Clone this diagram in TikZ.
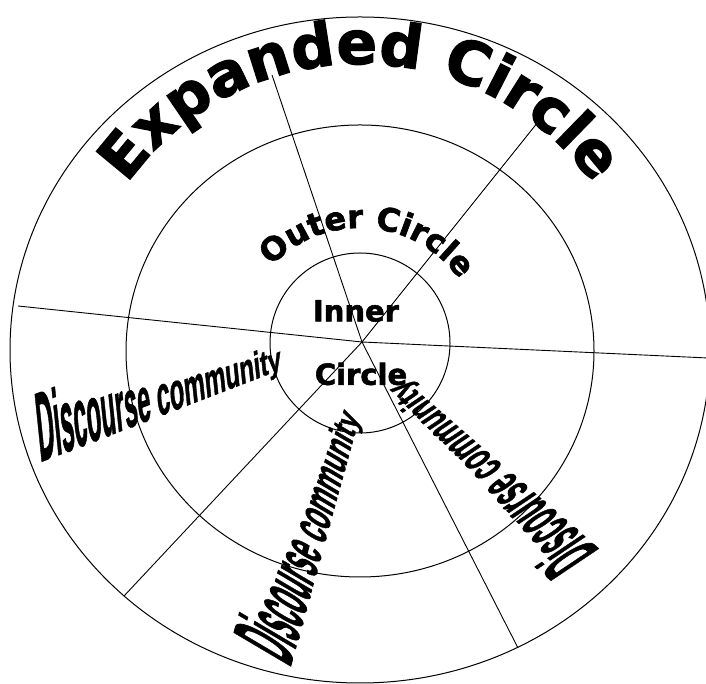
\documentclass[tikz,border=0pt]{standalone}
\usepackage{fontspec}
\usepackage{graphicx}
\usetikzlibrary{decorations.text}

\newfontfamily\ringfont{DejaVu Sans}[BoldFeatures={FakeBold=2}]
\newfontfamily\dcfont{Liberation Sans}[BoldFeatures={FakeBold=1.5}]

% tall-to-short letters, as in the word-art labels
\newcommand{\dclabel}[2]{%
  \foreach \ch [count=\k from 0] in {D,i,s,c,o,u,r,s,e,~,c,o,m,m,u,n,i,t,y}{%
    \pgfmathsetmacro\uu{1-\k/18}%
    \pgfmathsetmacro\vs{#2+(#1-#2)*\uu*(0.6+0.4*\uu)}%
    \scalebox{0.62}[\vs]{\ch}}}

\begin{document}
\begin{tikzpicture}[
  x=1pt, y=1pt,
  ring/.style={line width=1pt},
  spoke/.style={line width=0.9pt},
  dc/.style={inner sep=0pt, anchor=base west, xslant=0.27,
             font=\dcfont\bfseries\fontsize{40}{40}\selectfont},
  lbl/.style={inner sep=0pt, font=\ringfont\bfseries\fontsize{29}{29}\selectfont},
]
  \useasboundingbox (0,0) rectangle (706,684);

  % rings
  \draw[ring] (360,334) ellipse[x radius=350, y radius=333];
  \draw[ring] (360,333) ellipse[x radius=234, y radius=226];
  \draw[ring] (360,341) circle[radius=90];

  % spokes from the middle
  \coordinate (c) at (362,342);
  \coordinate (w)  at (18,378);
  \coordinate (e)  at (708,326);
  \coordinate (n)  at (272,609);
  \coordinate (ne) at (542,567);
  \coordinate (se) at (518,36);
  \coordinate (sw) at (124,88);
  \foreach \p in {w,e,n,ne,se,sw}
    \draw[spoke] (c) -- (\p);

  % ring names
  \path[decorate, decoration={text along path, text align=center,
      text={|\ringfont\bfseries\fontsize{60}{60}\selectfont|Expanded Circle}}]
    (74,334) arc[start angle=180, end angle=0, radius=286];
  \path[decorate, decoration={text along path, text align=center,
      text={|\ringfont\bfseries\fontsize{32}{32}\selectfont|Outer Circle}}]
    (238.3,342.5) arc[start angle=176, end angle=-4, radius=122];

  \node[lbl] (innerlbl)  at (356,373) {Inner};
  \node[lbl] (circlelbl) at (361,310) {Circle};

  % discourse communities
  \node[rotate=21, dc]   (dcw) at (40,222) {\dclabel{2.35}{0.8}};
  \node[rotate=74.5, dc] (dcs) at (290,16) {\dclabel{2.3}{0.8}};
  \node[rotate=139, dc]  (dce) at (600,134) {\dclabel{2.0}{0.8}};
\end{tikzpicture}
\end{document}
